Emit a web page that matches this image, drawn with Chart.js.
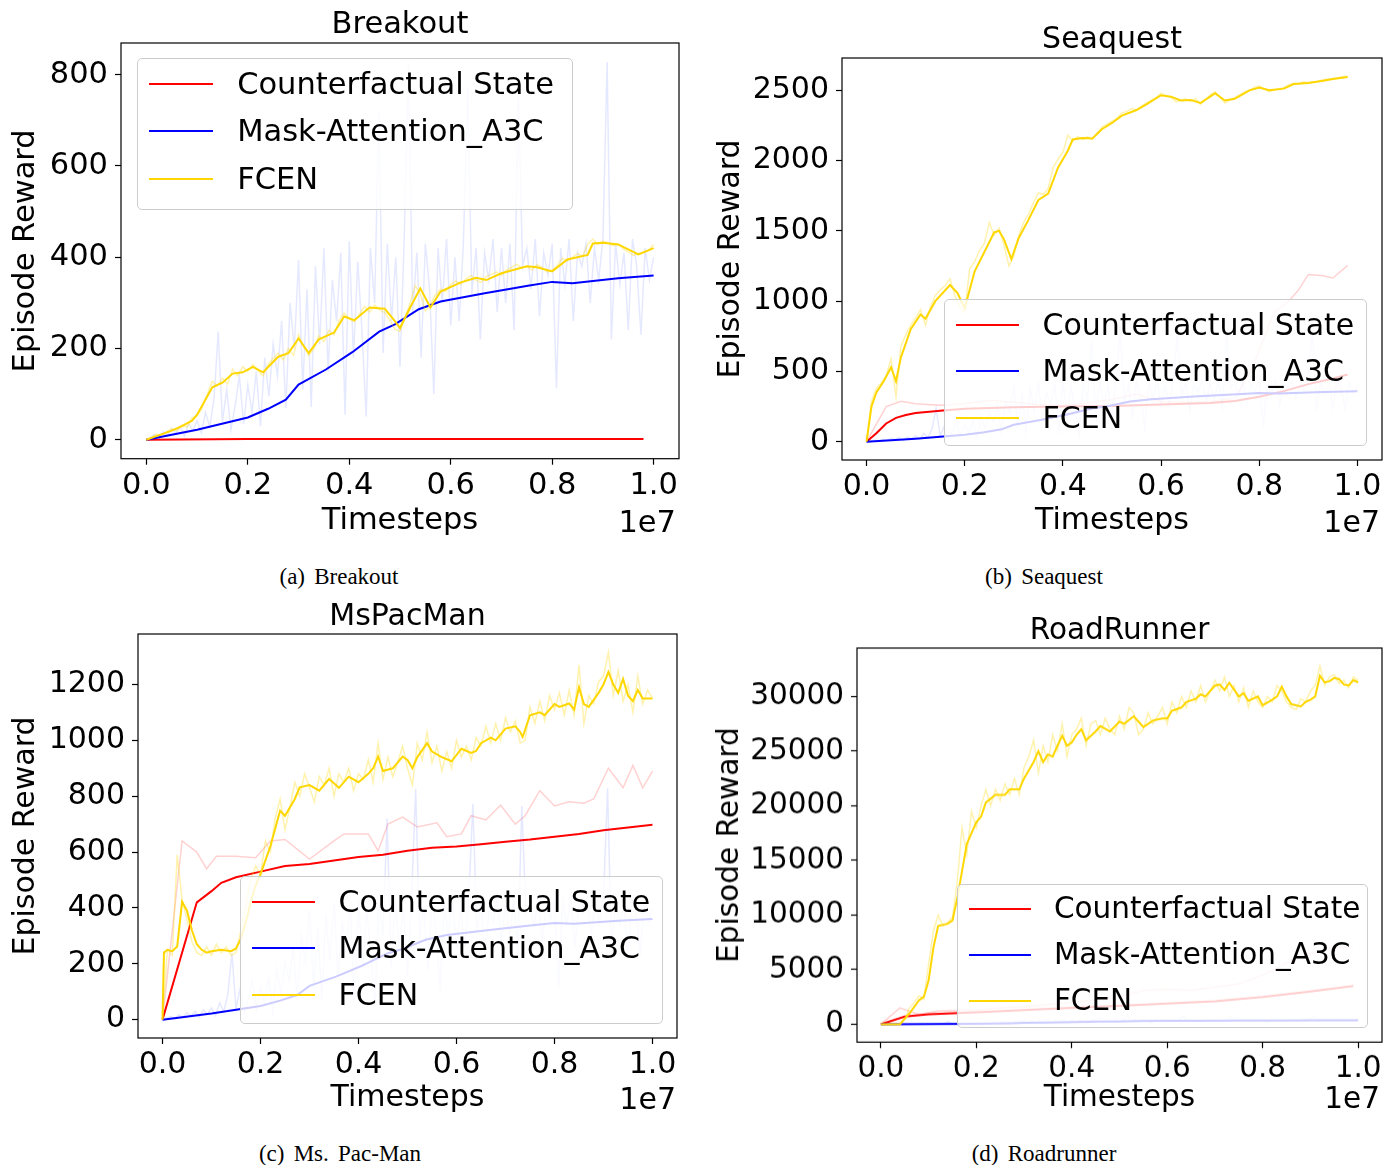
<!DOCTYPE html>
<html lang="en">
<head>
<meta charset="UTF-8">
<title>Episode reward vs timesteps</title>
<script src="https://cdn.jsdelivr.net/npm/chart.js@4.4.1/dist/chart.umd.min.js"></script>
<style>
    body { margin: 0; width: 1395px; height: 1165px; position: relative; overflow: hidden; background: #fff; font-family: 'DejaVu Sans', sans-serif; }
    canvas { position: absolute; }
    .txt { position: absolute; white-space: nowrap; line-height: 1; color: #000; }
    .caption { font-family: 'Liberation Serif', 'Times New Roman', serif; word-spacing: 0.15em; }
    .legend { position: absolute; box-sizing: border-box; background: rgba(255,255,255,0.8); border: 1px solid #cccccc; border-radius: 5px; }
    .legend .handle { position: absolute; height: 2px; }
    .legend .label { position: absolute; white-space: nowrap; line-height: 1; transform: translateY(-50%); }
</style>
</head>
<body>
<script>
// ---------- tick values ----------
const xTicks = [0, 0.2, 0.4, 0.6, 0.8, 1.0];
const breakoutYTicks = [0, 200, 400, 600, 800];
const seaquestYTicks = [0, 500, 1000, 1500, 2000, 2500];
const pacmanYTicks = [0, 200, 400, 600, 800, 1000, 1200];
const roadYTicks = [0, 5000, 10000, 15000, 20000, 25000, 30000];

// ---------- Mask-Attention_A3C (same run shown in every game) ----------
const maskX = [0, 0.1, 0.2, 0.24, 0.275, 0.3, 0.354, 0.406, 0.459, 0.49, 0.537, 0.58, 0.667, 0.755, 0.8, 0.84, 0.93, 1.0];
const maskY = [0, 22, 49, 68, 88, 121, 154, 192, 237, 253, 286, 303, 321, 338, 346, 343, 354, 360];
// raw episode rewards, one every 1/120 of the run
const maskRawY = [0, 5, 12, 3, 18, 9, 25, 14, 30, 8, 35, 20, 42,
    15, 60, 28, 90, 237, 40, 110, 22, 75, 140, 35, 120,
    60, 150, 30, 180, 95, 210, 140, 260, 70, 300, 200, 394,
    110, 330, 72, 380, 210, 420, 150, 350, 260, 410, 55, 435,
    180, 390, 240, 51, 420, 300, 720, 190, 430, 260, 400, 160,
    440, 826, 280, 410, 180, 430, 330, 100, 420, 300, 440, 250,
    400, 260, 430, 773, 320, 420, 220, 410, 350, 440, 280, 420,
    300, 430, 240, 766, 380, 420, 330, 440, 270, 410, 360, 430,
    113, 420, 340, 440, 260, 410, 380, 430, 300, 420, 350, 440,
    828, 220, 430, 340, 410, 240, 440, 380, 230, 420, 350, 400];

// ---------- Breakout ----------
const breakoutCfX = [0, 0.2, 0.4, 0.6, 0.8, 0.98];
const breakoutCfY = [0, 2, 2, 2, 2, 2];
const breakoutFcenX = [0, 0.02, 0.05, 0.07, 0.09, 0.1, 0.115, 0.13, 0.15, 0.17, 0.19, 0.21, 0.23, 0.26, 0.28, 0.30, 0.32, 0.34, 0.37, 0.39, 0.41, 0.44, 0.47, 0.49, 0.50, 0.52, 0.54, 0.56, 0.58, 0.62, 0.65, 0.67, 0.70, 0.75, 0.77, 0.80, 0.83, 0.87, 0.88, 0.90, 0.93, 0.97, 1.0];
const breakoutFcenY = [0, 8, 20, 30, 42, 55, 85, 115, 125, 145, 148, 160, 148, 182, 190, 222, 190, 220, 235, 270, 262, 290, 287, 260, 245, 290, 332, 290, 325, 345, 355, 350, 365, 380, 378, 369, 395, 405, 430, 432, 428, 406, 420];
const breakoutFcenRawY = [0, 6, 12, 10, 18, 24, 20, 32, 28, 48, 52,
    70, 100, 128, 118, 135, 122, 155, 140, 160, 150,
    165, 152, 140, 165, 178, 190, 175, 200, 185, 230,
    205, 185, 200, 228, 215, 240, 230, 262, 278, 265,
    258, 275, 292, 280, 295, 285, 278, 262, 242, 238,
    268, 300, 338, 320, 282, 296, 318, 330, 325, 340,
    348, 340, 352, 360, 350, 345, 358, 362, 368, 360,
    372, 378, 385, 376, 380, 372, 384, 378, 368, 372,
    382, 398, 392, 400, 408, 402, 428, 440, 428, 435,
    432, 425, 430, 418, 412, 404, 408, 410, 415, 428];

// ---------- Seaquest ----------
const seaquestCfX = [0, 0.02, 0.04, 0.06, 0.08, 0.1, 0.15, 0.2, 0.3, 0.4, 0.5, 0.6, 0.7, 0.75, 0.8, 0.85, 0.9, 0.95, 0.98];
const seaquestCfY = [0, 60, 130, 170, 190, 205, 220, 235, 245, 250, 255, 265, 275, 290, 320, 360, 410, 450, 478];
const seaquestCfRawX = [0, 0.04, 0.07, 0.1, 0.15, 0.2, 0.25, 0.3, 0.35, 0.4, 0.45, 0.5, 0.55, 0.6, 0.65, 0.7, 0.75, 0.78, 0.8, 0.83, 0.86, 0.88, 0.9, 0.93, 0.95, 0.98];
const seaquestCfRawY = [0, 250, 288, 270, 260, 270, 295, 280, 265, 260, 275, 300, 340, 285, 280, 285, 310, 480, 650, 920, 1000, 1080, 1190, 1180, 1165, 1255];
const seaquestFcenX = [0, 0.01, 0.02, 0.035, 0.05, 0.06, 0.07, 0.09, 0.11, 0.12, 0.14, 0.17, 0.185, 0.20, 0.22, 0.24, 0.26, 0.27, 0.28, 0.295, 0.31, 0.33, 0.35, 0.37, 0.39, 0.41, 0.42, 0.44, 0.46, 0.48, 0.50, 0.52, 0.55, 0.57, 0.60, 0.62, 0.64, 0.66, 0.68, 0.70, 0.71, 0.73, 0.75, 0.78, 0.80, 0.82, 0.85, 0.87, 0.90, 0.93, 0.95, 0.98];
const seaquestFcenY = [0, 250, 350, 430, 530, 430, 600, 800, 905, 875, 1000, 1115, 1060, 950, 1210, 1350, 1490, 1500, 1440, 1300, 1450, 1580, 1720, 1765, 1950, 2070, 2150, 2160, 2158, 2225, 2268, 2320, 2360, 2400, 2465, 2455, 2428, 2432, 2410, 2455, 2480, 2428, 2440, 2500, 2520, 2500, 2512, 2545, 2552, 2568, 2580, 2595];
const seaquestFcenRawY = [0, 290, 380, 420, 470, 590, 320, 680, 760, 830,
    880, 940, 830, 960, 1040, 1080, 1110, 1160, 1040, 960,
    920, 1230, 1280, 1360, 1410, 1560, 1470, 1520, 1400, 1250,
    1320, 1470, 1560, 1620, 1700, 1770, 1760, 1800, 1950, 2010,
    2060, 2180, 2140, 2170, 2150, 2170, 2150, 2200, 2240, 2260,
    2280, 2300, 2340, 2350, 2370, 2360, 2390, 2410, 2430, 2450,
    2480, 2460, 2450, 2420, 2430, 2440, 2420, 2440, 2400, 2430,
    2470, 2490, 2450, 2410, 2430, 2450, 2470, 2490, 2500, 2520,
    2530, 2510, 2490, 2500, 2510, 2520, 2540, 2550, 2545, 2560,
    2555, 2560, 2565, 2575, 2580, 2585, 2590, 2598, 2600];

// ---------- MsPacMan ----------
const pacmanCfX = [0, 0.07, 0.1, 0.12, 0.15, 0.2, 0.25, 0.3, 0.35, 0.4, 0.45, 0.5, 0.55, 0.6, 0.65, 0.7, 0.75, 0.8, 0.85, 0.9, 0.95, 1.0];
const pacmanCfY = [0, 420, 460, 490, 510, 530, 550, 557, 570, 582, 590, 605, 615, 620, 628, 637, 645, 655, 665, 678, 688, 698];
const pacmanCfRawX = [0, 0.04, 0.07, 0.09, 0.11, 0.15, 0.19, 0.22, 0.25, 0.3, 0.35, 0.37, 0.42, 0.44, 0.46, 0.49, 0.52, 0.56, 0.58, 0.61, 0.63, 0.66, 0.69, 0.72, 0.74, 0.77, 0.80, 0.83, 0.86, 0.88, 0.91, 0.94, 0.96, 0.98, 1.0];
const pacmanCfRawY = [0, 640, 600, 540, 585, 585, 580, 640, 645, 575, 640, 665, 665, 605, 700, 725, 690, 705, 655, 665, 730, 715, 768, 700, 730, 820, 765, 780, 775, 790, 900, 830, 910, 830, 890];
const pacmanFcenX = [0, 0.003, 0.01, 0.02, 0.03, 0.04, 0.05, 0.06, 0.07, 0.08,
    0.09, 0.10, 0.12, 0.14, 0.15, 0.16, 0.17, 0.18, 0.19, 0.20,
    0.21, 0.22, 0.24, 0.25, 0.27, 0.28, 0.30, 0.32, 0.34, 0.36,
    0.38, 0.40, 0.42, 0.43, 0.44, 0.45, 0.47, 0.49, 0.50, 0.51,
    0.52, 0.54, 0.55, 0.57, 0.59, 0.61, 0.63, 0.64, 0.65, 0.67,
    0.68, 0.70, 0.72, 0.73, 0.735, 0.75, 0.77, 0.78, 0.80, 0.81,
    0.83, 0.84, 0.85, 0.86, 0.87, 0.89, 0.90, 0.91, 0.92, 0.93,
    0.94, 0.95, 0.96, 0.97, 0.98, 1.0];
const pacmanFcenY = [0, 240, 250, 245, 262, 422, 390, 320, 270, 250,
    240, 245, 250, 245, 255, 290, 350, 420, 480, 520,
    570, 620, 748, 730, 790, 832, 840, 820, 862, 830,
    870, 850, 880, 900, 942, 890, 900, 942, 930, 900,
    940, 990, 960, 940, 925, 970, 955, 962, 990, 1010,
    1000, 1042, 1050, 1030, 1012, 1090, 1100, 1090, 1130, 1120,
    1132, 1110, 1190, 1130, 1120, 1170, 1200, 1245, 1200, 1170,
    1220, 1160, 1140, 1180, 1150, 1150];
const pacmanFcenRawY = [0, 250, 230, 590, 430, 360, 280, 240, 230, 260,
    230, 270, 240, 260, 230, 240, 320, 410, 500, 550,
    520, 640, 600, 720, 790, 680, 760, 850, 800, 880,
    830, 780, 870, 840, 900, 800, 880, 850, 900, 820,
    880, 860, 930, 850, 990, 860, 940, 870, 920, 980,
    900, 840, 990, 930, 1030, 920, 980, 890, 960, 900,
    1000, 940, 980, 930, 1010, 980, 1050, 990, 1060, 1000,
    1080, 1030, 1070, 990, 1000, 1120, 1060, 1140, 1070, 1160,
    1110, 1170, 1090, 1180, 1090, 1270, 1060, 1160, 1130, 1210,
    1230, 1315, 1160, 1250, 1140, 1200, 1100, 1230, 1130, 1180,
    1150];

// ---------- RoadRunner ----------
const roadCfX = [0, 0.05, 0.1, 0.15, 0.2, 0.3, 0.4, 0.5, 0.6, 0.7, 0.8, 0.9, 0.99];
const roadCfY = [0, 700, 900, 1000, 1100, 1300, 1500, 1700, 1900, 2100, 2500, 3000, 3500];
const roadCfRawX = [0, 0.04, 0.08, 0.12, 0.2, 0.25, 0.3, 0.4, 0.5, 0.55, 0.6, 0.65, 0.7, 0.75, 0.8, 0.85, 0.9, 0.95, 0.99];
const roadCfRawY = [0, 1500, 900, 1200, 1300, 1500, 1600, 2000, 2500, 3100, 3200, 3100, 3400, 3700, 4500, 5600, 6500, 7000, 7100];
const roadFcenX = [0, 0.03, 0.04, 0.06, 0.08, 0.09, 0.10, 0.11, 0.12, 0.14,
    0.15, 0.16, 0.17, 0.18, 0.19, 0.20, 0.21, 0.22, 0.24, 0.26,
    0.27, 0.29, 0.30, 0.32, 0.33, 0.34, 0.35, 0.36, 0.37, 0.38,
    0.39, 0.40, 0.41, 0.42, 0.43, 0.45, 0.46, 0.48, 0.50, 0.51,
    0.53, 0.54, 0.55, 0.57, 0.59, 0.60, 0.61, 0.63, 0.64, 0.66,
    0.67, 0.68, 0.70, 0.71, 0.72, 0.73, 0.75, 0.76, 0.77, 0.79,
    0.80, 0.82, 0.83, 0.84, 0.85, 0.86, 0.88, 0.89, 0.90, 0.91,
    0.92, 0.93, 0.94, 0.95, 0.96, 0.97, 0.98, 0.99, 1.0];
const roadFcenY = [0, 0, 0, 1000, 2200, 2500, 4000, 7000, 9000, 9200,
    9500, 11500, 14000, 16500, 17500, 18500, 19000, 20300, 21000, 21000,
    21500, 21500, 22500, 24000, 25000, 24000, 24700, 24500, 25500, 26400,
    25500, 25800, 26500, 27000, 26000, 26800, 27300, 26800, 27700, 27500,
    28200, 27700, 27200, 27800, 28000, 28000, 28700, 29000, 29500, 29800,
    30200, 30000, 31000, 31100, 30600, 31250, 30000, 30300, 29600, 30000,
    29200, 29700, 30000, 30900, 30000, 29300, 29100, 29500, 29700, 30000,
    31900, 31300, 31400, 31700, 31600, 31100, 31000, 31500, 31300];
const roadFcenRawY = [0, 0, 0, 0, 0, 500, 1500, 2000, 2600, 2300,
    5500, 8500, 10000, 9000, 9300, 9800, 13000, 18000, 15500, 19500,
    18000, 20000, 21500, 20000, 21500, 20500, 22000, 21000, 22500, 21000,
    23500, 24500, 26000, 23000, 25500, 24000, 26500, 25000, 27500, 24500,
    26500, 27000, 28000, 25500, 27500, 27800, 26500, 28000, 27000, 26500,
    28200, 27000, 29000, 28500, 26500, 27000, 28500, 27500, 28200, 29000,
    27500, 29500, 28500, 30000, 29000, 30500, 29500, 31000, 29500, 30500,
    31500, 30500, 31800, 30000, 31000, 29500, 30800, 29000, 30500, 29500,
    29000, 30000, 29500, 31000, 30500, 29500, 29000, 28800, 29800, 29500,
    30500, 31000, 32800, 31000, 31800, 32000, 31200, 31500, 30800, 31800,
    31500];

// ---------- helpers ----------
const RED = '#ff0000', BLUE = '#0000ff', GOLD = '#ffd700';
const RED_RAW = 'rgba(255,0,0,0.18)', BLUE_RAW = 'rgba(0,40,255,0.1)', GOLD_RAW = 'rgba(255,215,0,0.32)';

Chart.defaults.font.family = "'DejaVu Sans', sans-serif";
Chart.defaults.color = '#000';

function pairs(xs, ys) { return xs.map((x, i) => ({ x: x, y: ys[i] })); }
// raw logs are evenly spaced in time
function logged(ys, step) { return ys.map((y, i) => ({ x: i * step, y: y })); }

function line(label, data, color, width, order, isRaw) {
    return { label: label, data: data, borderColor: color, borderWidth: width, pointRadius: 0,
             pointHoverRadius: 0, tension: 0, fill: false, order: order, isRaw: isRaw, parsing: false };
}

// matplotlib-like 5% margin on both sides of the data
function paddedRange(datasets, key) {
    let lo = Infinity, hi = -Infinity;
    datasets.forEach(ds => ds.data.forEach(p => { lo = Math.min(lo, p[key]); hi = Math.max(hi, p[key]); }));
    const pad = (hi - lo) * 0.05;
    return { min: lo - pad, max: hi + pad };
}

function gameDatasets(cf, cfRaw, fcen, fcenRaw) {
    const sets = [];
    if (cfRaw) sets.push(line('Counterfactual State', cfRaw, RED_RAW, 1.5, 5, true));
    sets.push(line('Counterfactual State', cf, RED, 2, 4, false));
    sets.push(line('Mask-Attention_A3C', logged(maskRawY, 1 / 120), BLUE_RAW, 1.5, 3, true));
    sets.push(line('Mask-Attention_A3C', pairs(maskX, maskY), BLUE, 2, 2, false));
    sets.push(line('FCEN', fcenRaw, GOLD_RAW, 1.5, 1, true));
    sets.push(line('FCEN', fcen, GOLD, 2, 0, false));
    return sets;
}

// drop the half-label overhang Chart.js reserves, so the axes box sits exactly where asked
function fixSize(s, key, value) {
    s[key] = value;
    s.paddingTop = s.paddingBottom = s.paddingLeft = s.paddingRight = 0;
}

// ---------- plugins ----------
const frame = {
    id: 'frame',
    afterDraw(chart) {
        const { ctx, chartArea: a } = chart;
        ctx.save();
        ctx.strokeStyle = '#000';
        ctx.lineWidth = 1.2;
        ctx.strokeRect(a.left, a.top, a.right - a.left, a.bottom - a.top);
        ctx.restore();
    }
};

const htmlLegend = {
    id: 'htmlLegend',
    afterUpdate(chart, args, opts) {
        if (chart.$legendEl) return;
        const [l, t, w, h] = opts.box;
        const F = opts.size;
        const el = document.createElement('div');
        el.className = 'legend';
        el.style.cssText = `left:${l}px;top:${t}px;width:${w}px;height:${h}px;`;
        chart.data.datasets.filter(ds => !ds.isRaw).forEach((ds, i) => {
            const cy = 0.82 * F + i * 1.55 * F;
            const handle = document.createElement('div');
            handle.className = 'handle';
            handle.style.cssText = `left:${0.36 * F}px;top:${cy - 1}px;width:${2.1 * F}px;background:${ds.borderColor};`;
            const label = document.createElement('div');
            label.className = 'label';
            label.style.cssText = `left:${3.25 * F}px;top:${cy}px;font-size:${F}px;`;
            label.textContent = ds.label;
            el.appendChild(handle);
            el.appendChild(label);
        });
        document.body.appendChild(el);
        chart.$legendEl = el;
    }
};

function addText(text, x, y, size, anchor, cls) {
    const d = document.createElement('div');
    d.className = 'txt' + (cls ? ' ' + cls : '');
    d.textContent = text;
    const tx = anchor === 'right' ? '-100%' : '-50%';
    d.style.cssText = `left:${x}px;top:${y}px;font-size:${size}px;transform:translate(${tx},-50%);`;
    document.body.appendChild(d);
}

// ---------- panels ----------
const panels = [
    { title: 'Breakout', caption: '(a) Breakout', left: 0, box: [121, 43, 679, 459], font: 30.5,
      yTicks: breakoutYTicks, titleY: 22.6, xTitleY: 521, yTitlePad: 8, offsetX: 676, captionAt: [339, 575.5],
      legend: [137, 58, 436, 152],
      datasets: gameDatasets(pairs(breakoutCfX, breakoutCfY), null,
                             pairs(breakoutFcenX, breakoutFcenY), logged(breakoutFcenRawY, 0.01)) },
    { title: 'Seaquest', caption: '(b) Seaquest', left: 700, box: [842, 58, 1382, 460], font: 30,
      yTicks: seaquestYTicks, titleY: 37.6, xTitleY: 521, yTitlePad: 13, offsetX: 1380, captionAt: [1044, 575.5],
      legend: [944, 299, 423, 147],
      datasets: gameDatasets(pairs(seaquestCfX, seaquestCfY), pairs(seaquestCfRawX, seaquestCfRawY),
                             pairs(seaquestFcenX, seaquestFcenY), logged(seaquestFcenRawY, 0.01)) },
    { title: 'MsPacMan', caption: '(c) Ms. Pac-Man', left: 0, box: [138, 634, 677, 1038], font: 30,
      yTicks: pacmanYTicks, titleY: 614, xTitleY: 1098, yTitlePad: 8, offsetX: 676, captionAt: [340, 1153],
      legend: [240, 876, 423, 148],
      datasets: gameDatasets(pairs(pacmanCfX, pacmanCfY), pairs(pacmanCfRawX, pacmanCfRawY),
                             pairs(pacmanFcenX, pacmanFcenY), logged(pacmanFcenRawY, 0.01)) },
    { title: 'RoadRunner', caption: '(d) Roadrunner', left: 700, box: [857, 648, 1382, 1042], font: 29.5,
      yTicks: roadYTicks, titleY: 629, xTitleY: 1098, yTitlePad: 13, offsetX: 1380, captionAt: [1044, 1153],
      legend: [957, 884, 411, 144],
      datasets: gameDatasets(pairs(roadCfX, roadCfY), pairs(roadCfRawX, roadCfRawY),
                             pairs(roadFcenX, roadFcenY), logged(roadFcenRawY, 0.01)) }
];

panels.forEach(p => {
    const [bl, bt, br, bb] = p.box;
    const F = p.font;
    const lh = 1.2 * F;
    const xAxisH = p.xTitleY + lh / 2 + 2 - bb;
    const top = bt - 4;
    const w = br + 4 - p.left;
    const h = bb + xAxisH - top;

    const canvas = document.createElement('canvas');
    canvas.width = w;
    canvas.height = h;
    canvas.style.cssText = `left:${p.left}px;top:${top}px;width:${w}px;height:${h}px;`;
    document.body.appendChild(canvas);

    const xr = paddedRange(p.datasets, 'x');
    const yr = paddedRange(p.datasets, 'y');
    const yTicks = p.yTicks;

    new Chart(canvas, {
        type: 'line',
        data: { datasets: p.datasets },
        options: {
            responsive: false,
            animation: false,
            events: [],
            layout: { padding: { top: 4, right: 4, left: 0, bottom: 0 } },
            plugins: {
                legend: { display: false },
                tooltip: { enabled: false },
                htmlLegend: { box: p.legend, size: F }
            },
            scales: {
                x: {
                    type: 'linear', min: xr.min, max: xr.max,
                    afterFit: s => fixSize(s, 'height', xAxisH),
                    afterBuildTicks: s => { s.ticks = xTicks.map(v => ({ value: v })); },
                    ticks: { callback: v => v.toFixed(1), font: { size: F }, padding: 3, autoSkip: false, maxRotation: 0 },
                    grid: { drawOnChartArea: false, tickLength: 6, tickWidth: 1.2, color: '#000' },
                    border: { display: false },
                    title: { display: true, text: 'Timesteps', font: { size: F }, padding: { top: 0, bottom: 2 } }
                },
                y: {
                    type: 'linear', min: yr.min, max: yr.max,
                    afterFit: s => fixSize(s, 'width', bl - p.left),
                    afterBuildTicks: s => { s.ticks = yTicks.map(v => ({ value: v })); },
                    ticks: { callback: v => String(v), font: { size: F }, padding: 7, autoSkip: false },
                    grid: { drawOnChartArea: false, tickLength: 6, tickWidth: 1.2, color: '#000' },
                    border: { display: false },
                    title: { display: true, text: 'Episode Reward', font: { size: F }, padding: { top: p.yTitlePad, bottom: 0 } }
                }
            }
        },
        plugins: [frame, htmlLegend]
    });

    addText(p.title, (bl + br) / 2, p.titleY + 0.5, F, 'center');
    addText('1e7', p.offsetX, p.xTitleY + 0.5, F, 'right');
    addText(p.caption, p.captionAt[0], p.captionAt[1], 23, 'center', 'caption');
});
</script>
</body>
</html>
